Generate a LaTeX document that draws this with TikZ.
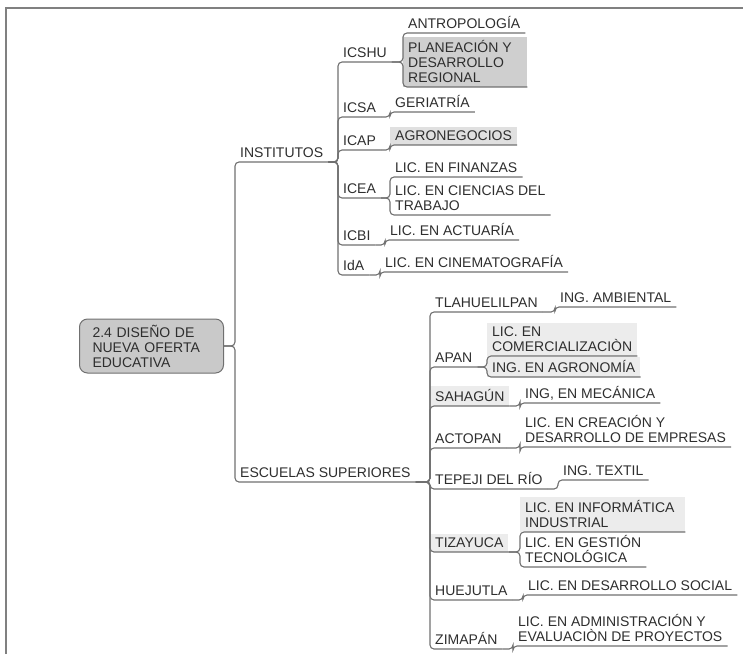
\documentclass[tikz,border=0pt]{standalone}
\usepackage{fontspec}
\setmainfont{Liberation Sans}
\usetikzlibrary{positioning}
\definecolor{inkgray}{HTML}{2E2E2E}
\definecolor{linegray}{HTML}{707070}
\definecolor{rootgray}{HTML}{C9C9C9}
\definecolor{darkfill}{HTML}{CFCFCF}
\definecolor{midfill}{HTML}{E0E0E0}
\definecolor{lightfill}{HTML}{ECECEC}

\begin{document}
\begin{tikzpicture}[
    x=1pt, y=-1pt,
    font=\fontsize{14}{15}\selectfont,
    topic/.style={anchor=south west, inner xsep=5pt, inner ysep=4pt, text depth=0pt, align=left, text=inkgray},
    central/.style={draw=linegray, fill=rootgray, rounded corners=8pt, line width=1pt, text width=118pt, inner xsep=13pt, minimum height=54pt, align=left, text=inkgray, anchor=west},
    link/.style={draw=linegray, line width=1.1pt, rounded corners=4pt},
    frame/.style={draw=gray, line width=1.6pt}
]
\useasboundingbox (0,0) rectangle (743,654);
\draw[frame] (6,654) -- (6,8) -- (743,8);

% Nodes
\node[central] (root) at (79,346) {2.4 DISEÑO DE\\NUEVA OFERTA\\EDUCATIVA};

\node[topic] (inst) at (235,162) {INSTITUTOS};
\node[topic] (esc) at (235,482) {ESCUELAS SUPERIORES};

\node[topic] (icshu) at (338,62) {ICSHU};
\node[topic] (antro) at (403,33) {ANTROPOLOGÍA};
\node[topic, fill=darkfill] (plan) at (403,87) {\parbox[b]{114pt}{PLANEACIÓN Y\\DESARROLLO\\REGIONAL}};
\node[topic] (icsa) at (338,117) {ICSA};
\node[topic] (geri) at (390,112) {GERIATRÍA};
\node[topic] (icap) at (338,150) {ICAP};
\node[topic, fill=midfill] (agro) at (390,145) {AGRONEGOCIOS};
\node[topic] (icea) at (338,198) {ICEA};
\node[topic] (fin) at (390,177) {LIC. EN FINANZAS};
\node[topic] (cien) at (390,215) {LIC. EN CIENCIAS DEL\\TRABAJO};
\node[topic] (icbi) at (338,245) {ICBI};
\node[topic] (actu) at (385,240) {LIC. EN ACTUARÍA};
\node[topic] (ida) at (338,275) {IdA};
\node[topic] (cine) at (380,272) {LIC. EN CINEMATOGRAFÍA};

\node[topic] (tla) at (430,312) {TLAHUELILPAN};
\node[topic] (amb) at (555,307) {ING. AMBIENTAL};
\node[topic] (apan) at (430,367) {APAN};
\node[topic, fill=lightfill] (comer) at (487,356) {LIC. EN\\COMERCIALIZACIÒN};
\node[topic, fill=lightfill] (agron) at (487,377) {ING. EN AGRONOMÍA};
\node[topic, fill=lightfill] (sah) at (430,406) {SAHAGÚN};
\node[topic] (mec) at (520,403) {ING, EN MECÁNICA};
\node[topic] (act) at (430,448) {ACTOPAN};
\node[topic] (crea) at (520,447) {LIC. EN CREACIÓN Y\\DESARROLLO DE EMPRESAS};
\node[topic] (tep) at (430,489) {TEPEJI DEL RÍO};
\node[topic] (text) at (558,480) {ING. TEXTIL};
\node[topic, fill=lightfill] (tiz) at (430,552) {TIZAYUCA};
\node[topic, fill=lightfill] (info) at (520,532) {\parbox[b]{155pt}{LIC. EN INFORMÁTICA\\INDUSTRIAL}};
\node[topic] (gest) at (520,567) {LIC. EN GESTIÓN\\TECNOLÓGICA};
\node[topic] (hue) at (430,600) {HUEJUTLA};
\node[topic] (soc) at (523,595) {LIC. EN DESARROLLO SOCIAL};
\node[topic] (zim) at (430,649) {ZIMAPÁN};
\node[topic] (adm) at (513,646) {LIC. EN ADMINISTRACIÓN Y\\EVALUACIÒN DE PROYECTOS};

% Edges
\draw[link] (root.east) -| (inst.south west) -- (inst.south east);
\draw[link] (root.east) -| (esc.south west) -- (esc.south east);

\draw[link] (inst.south east) -| (icshu.south west) -- (icshu.south east);
\draw[link] (inst.south east) -| (icsa.south west) -- (icsa.south east);
\draw[link] (inst.south east) -| (icap.south west) -- (icap.south east);
\draw[link] (inst.south east) -| (icea.south west) -- (icea.south east);
\draw[link] (inst.south east) -| (icbi.south west) -- (icbi.south east);
\draw[link] (inst.south east) -| (ida.south west) -- (ida.south east);

\draw[link] (icshu.south east) -| (antro.south west) -- (antro.south east);
\draw[link] (icshu.south east) -| (plan.south west) -- (plan.south east);
\draw[link] (icsa.south east) -| (geri.south west) -- (geri.south east);
\draw[link] (icap.south east) -| (agro.south west) -- (agro.south east);
\draw[link] (icea.south east) -| (fin.south west) -- (fin.south east);
\draw[link] (icea.south east) -| (cien.south west) -- (cien.south east);
\draw[link] (icbi.south east) -| (actu.south west) -- (actu.south east);
\draw[link] (ida.south east) -| (cine.south west) -- (cine.south east);

\draw[link] (esc.south east) -| (tla.south west) -- (tla.south east);
\draw[link] (esc.south east) -| (apan.south west) -- (apan.south east);
\draw[link] (esc.south east) -| (sah.south west) -- (sah.south east);
\draw[link] (esc.south east) -| (act.south west) -- (act.south east);
\draw[link] (esc.south east) -| (tep.south west) -- (tep.south east);
\draw[link] (esc.south east) -| (tiz.south west) -- (tiz.south east);
\draw[link] (esc.south east) -| (hue.south west) -- (hue.south east);
\draw[link] (esc.south east) -| (zim.south west) -- (zim.south east);

\draw[link] (tla.south east) -| (amb.south west) -- (amb.south east);
\draw[link] (apan.south east) -| (comer.south west) -- (comer.south east);
\draw[link] (apan.south east) -| (agron.south west) -- (agron.south east);
\draw[link] (sah.south east) -| (mec.south west) -- (mec.south east);
\draw[link] (act.south east) -| (crea.south west) -- (crea.south east);
\draw[link] (tep.south east) -| (text.south west) -- (text.south east);
\draw[link] (tiz.south east) -| (info.south west) -- (info.south east);
\draw[link] (tiz.south east) -| (gest.south west) -- (gest.south east);
\draw[link] (hue.south east) -| (soc.south west) -- (soc.south east);
\draw[link] (zim.south east) -| (adm.south west) -- (adm.south east);

\end{tikzpicture}
\end{document}
